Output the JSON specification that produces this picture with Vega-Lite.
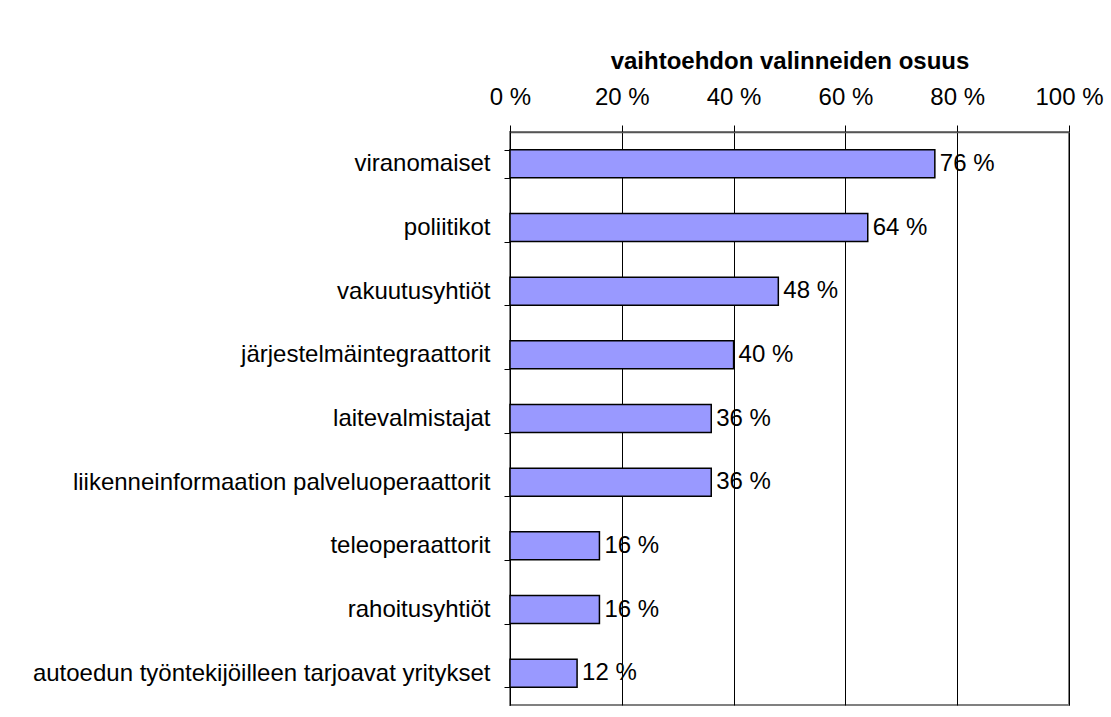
{
  "$schema": "https://vega.github.io/schema/vega-lite/v6.json",
  "width": 559,
  "height": 573,
  "autosize": {"type": "none"},
  "padding": {"left": 510, "top": 132, "right": 42, "bottom": 12},
  "background": "white",
  "config": {
    "font": "Liberation Sans",
    "view": {"stroke": "#808080", "strokeWidth": 2},
    "axis": {"labelFont": "Liberation Sans", "titleFont": "Liberation Sans"}
  },
  "data": {
    "values": [
      {"category": "viranomaiset", "value": 76, "label": "76 %"},
      {"category": "poliitikot", "value": 64, "label": "64 %"},
      {"category": "vakuutusyhtiöt", "value": 48, "label": "48 %"},
      {"category": "järjestelmäintegraattorit", "value": 40, "label": "40 %"},
      {"category": "laitevalmistajat", "value": 36, "label": "36 %"},
      {"category": "liikenneinformaation palveluoperaattorit", "value": 36, "label": "36 %"},
      {"category": "teleoperaattorit", "value": 16, "label": "16 %"},
      {"category": "rahoitusyhtiöt", "value": 16, "label": "16 %"},
      {"category": "autoedun työntekijöilleen tarjoavat yritykset", "value": 12, "label": "12 %"}
    ]
  },
  "encoding": {
    "y": {
      "field": "category",
      "type": "nominal",
      "sort": null,
      "scale": {"paddingInner": 0.56, "paddingOuter": 0.28},
      "axis": {
        "title": null,
        "orient": "left",
        "domainColor": "#000000",
        "domainWidth": 1,
        "tickColor": "#000000",
        "tickSize": 6,
        "tickBand": "extent",
        "labelFontSize": 24,
        "labelColor": "#000000",
        "labelPadding": 14,
        "labelLimit": 700,
        "grid": false
      }
    }
  },
  "layer": [
    {
      "mark": {"type": "bar", "fill": "#9999FF", "stroke": "#000000", "strokeWidth": 1.5},
      "encoding": {
        "x": {
          "field": "value",
          "type": "quantitative",
          "scale": {"domain": [0, 100], "nice": false},
          "axis": {
            "orient": "top",
            "title": "vaihtoehdon valinneiden osuus",
            "titleFontSize": 24,
            "titleFontWeight": "bold",
            "titleColor": "#000000",
            "titlePadding": 12,
            "values": [0, 20, 40, 60, 80, 100],
            "labelExpr": "datum.value + ' %'",
            "labelFlush": false,
            "labelOverlap": false,
            "labelFontSize": 24,
            "labelColor": "#000000",
            "labelPadding": 16,
            "tickSize": 7,
            "tickColor": "#000000",
            "domainColor": "#555555",
            "domainWidth": 1.5,
            "grid": true,
            "gridColor": "#000000",
            "gridWidth": 1,
            "gridOpacity": 1
          }
        }
      }
    },
    {
      "mark": {"type": "text", "align": "left", "baseline": "middle", "dx": 5, "fontSize": 24, "color": "#000000"},
      "encoding": {
        "x": {"field": "value", "type": "quantitative"},
        "text": {"field": "label", "type": "nominal"}
      }
    }
  ]
}
